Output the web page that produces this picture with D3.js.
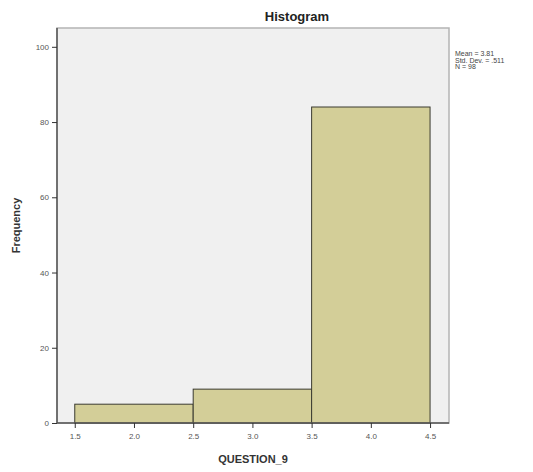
<!DOCTYPE html>
<html>
<head>
<meta charset="utf-8">
<script src="https://cdn.jsdelivr.net/npm/d3@7"></script>
<style>
  body { margin: 0; background: #fff; }
  text { font-family: Arial, "Liberation Sans", sans-serif; }
</style>
</head>
<body>
<div id="chart"></div>
<script>
// histogram bins and counts
var binStart = [1.5, 2.5, 3.5];
var binEnd = [2.5, 3.5, 4.5];
var counts = [5, 9, 84];
var xTicks = [1.5, 2.0, 2.5, 3.0, 3.5, 4.0, 4.5];
var yTicks = [0, 20, 40, 60, 80, 100];
var stats = ["Mean = 3.81", "Std. Dev. = .511", "N = 98"];

var width = 533, height = 472;
var plot = {left: 57, right: 449, top: 28, bottom: 423};

var svg = d3.select("#chart").append("svg")
    .attr("width", width)
    .attr("height", height);

var x = d3.scaleLinear()
    .domain([1.35, 4.66])
    .range([plot.left, plot.right]);
var y = d3.scaleLinear()
    .domain([0, 105])
    .range([plot.bottom, plot.top]);

// plot background with frame
svg.append("rect")
    .attr("x", plot.left)
    .attr("y", plot.top)
    .attr("width", plot.right - plot.left)
    .attr("height", plot.bottom - plot.top)
    .style("fill", "#f0f0f0")
    .style("stroke", "#b4b4b4")
    .style("stroke-width", 1.5);

// bars
svg.selectAll("rect.bar")
    .data(counts)
    .enter().append("rect")
    .attr("class", "bar")
    .attr("x", function(d, i) { return x(binStart[i]); })
    .attr("width", function(d, i) { return x(binEnd[i]) - x(binStart[i]); })
    .attr("y", function(d) { return y(d); })
    .attr("height", function(d) { return y(0) - y(d); })
    .style("fill", "#d3ce98")
    .style("stroke", "#3a3a30")
    .style("stroke-width", 1);

// x axis
var xAxis = svg.append("g")
    .attr("transform", "translate(0," + plot.bottom + ")")
    .call(d3.axisBottom(x).tickValues(xTicks).tickFormat(d3.format(".1f")).tickSize(5).tickPadding(5));
xAxis.select(".domain").attr("d", "M" + plot.left + ",0H" + plot.right).style("stroke", "#555").style("stroke-width", 1.5);
xAxis.selectAll(".tick line").style("stroke", "#333");
xAxis.selectAll("text").style("font-size", "8px").style("fill", "#555");

// y axis
var yAxis = svg.append("g")
    .attr("transform", "translate(" + plot.left + ",0)")
    .call(d3.axisLeft(y).tickValues(yTicks).tickSize(5).tickPadding(3));
yAxis.select(".domain").attr("d", "M0," + plot.bottom + "V" + plot.top).style("stroke", "#555").style("stroke-width", 1.5);
yAxis.selectAll(".tick line").style("stroke", "#333");
yAxis.selectAll("text").style("font-size", "8px").style("fill", "#555");

// title
svg.append("text")
    .attr("x", 297)
    .attr("y", 21)
    .attr("text-anchor", "middle")
    .style("font-size", "13px")
    .style("font-weight", "bold")
    .style("fill", "#222")
    .text("Histogram");

// axis labels
svg.append("text")
    .attr("x", (plot.left + plot.right) / 2)
    .attr("y", 463)
    .attr("text-anchor", "middle")
    .style("font-size", "11px")
    .style("font-weight", "bold")
    .style("fill", "#333")
    .text("QUESTION_9");

svg.append("text")
    .attr("transform", "translate(20," + ((plot.top + plot.bottom) / 2) + ")rotate(-90)")
    .attr("text-anchor", "middle")
    .style("font-size", "11px")
    .style("font-weight", "bold")
    .style("fill", "#333")
    .text("Frequency");

// stats box
svg.selectAll("text.stat")
    .data(stats)
    .enter().append("text")
    .attr("class", "stat")
    .attr("x", 455)
    .attr("y", function(d, i) { return 56 + i * 6.5; })
    .style("font-size", "7px")
    .style("fill", "#444")
    .text(function(d) { return d; });
</script>
</body>
</html>
